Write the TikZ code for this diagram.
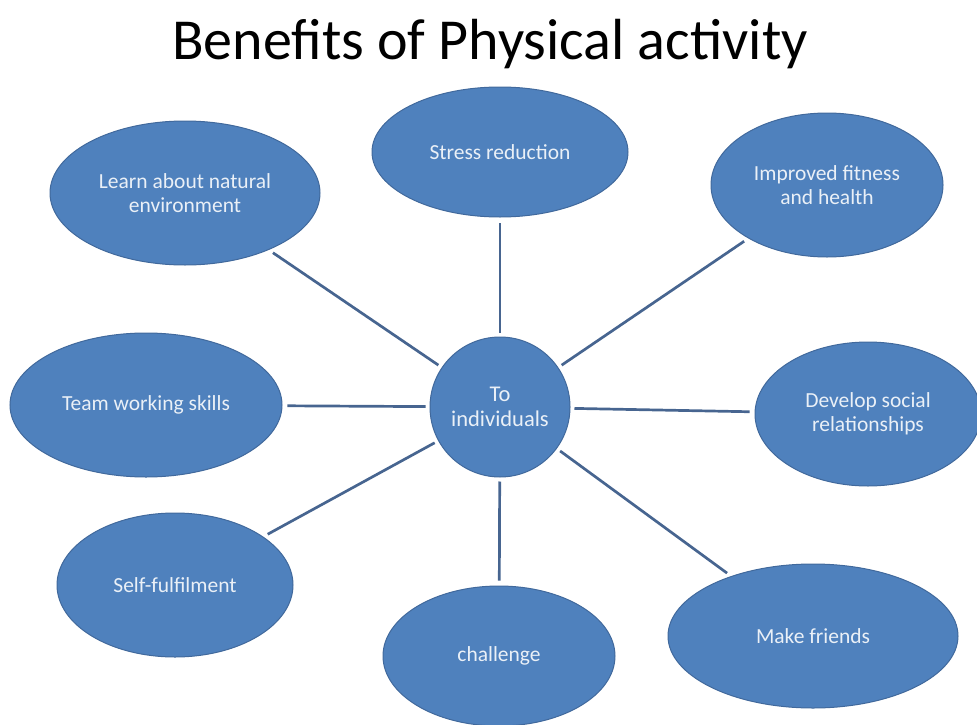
\documentclass[tikz,border=0pt]{standalone}
\usepackage{fontspec}
\setmainfont{Carlito}
\usetikzlibrary{shapes.geometric}
\definecolor{bubble}{HTML}{4F81BD}
\definecolor{bubbleedge}{HTML}{41699C}
\definecolor{spokecol}{HTML}{476590}
\tikzset{benefit/.style={ellipse, fill=bubble, draw=bubbleedge, line width=1pt,
    text=white!88!bubble, align=center, inner sep=0pt,
    font=\fontsize{21.5}{24}\selectfont}}
\tikzset{spoke/.style={draw=spokecol, line width=2.7pt, shorten <=4pt, shorten >=5pt}}

\begin{document}
\begin{tikzpicture}[x=1pt, y=-1pt]
            \useasboundingbox (0,0) rectangle (977,725);
            \node[font=\fontsize{58}{64}\selectfont] (title) at (490,44) {Benefits of Physical activity};
            \node[benefit, circle, minimum size=140pt, font=\fontsize{22.5}{25}\selectfont] (c) at (500,407) {To\\individuals};
            \node[benefit, minimum width=256pt, minimum height=130pt] (stress) at (500,152) {Stress reduction};
            \node[benefit, minimum width=270pt, minimum height=144pt] (nature) at (185,193) {Learn about natural\\environment};
            \node[benefit, minimum width=232pt, minimum height=144pt] (fitness) at (827,185) {Improved fitness\\and health};
            \node[benefit, minimum width=272pt, minimum height=144pt] (team) at (146,405) {Team working skills};
            \node[benefit, minimum width=226pt, minimum height=144pt] (social) at (868,414) {Develop social\\relationships};
            \node[benefit, minimum width=236pt, minimum height=144pt] (self) at (175,585) {Self-fulfilment};
            \node[benefit, minimum width=232pt, minimum height=140pt] (challenge) at (499,656) {challenge};
            \node[benefit, minimum width=290pt, minimum height=144pt] (friends) at (813,636) {Make friends};
            % spokes out of the centre
            \foreach \n in {stress, nature, fitness, team, social, self, challenge, friends}
                \draw[spoke] (c) -- (\n);
        \end{tikzpicture}
\end{document}
